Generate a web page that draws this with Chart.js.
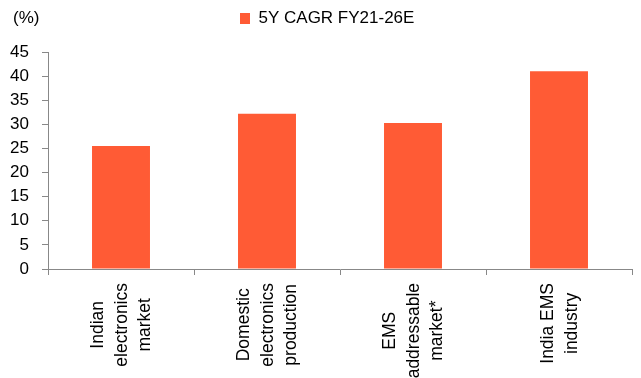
<!DOCTYPE html>
<html>
<head>
<meta charset="utf-8">
<script src="https://cdn.jsdelivr.net/npm/chart.js@4.4.0/dist/chart.umd.min.js"></script>
<style>
  html, body { margin: 0; padding: 0; background: #fff; }
  #wrap { width: 641px; height: 378px; }
</style>
</head>
<body>
<div id="wrap"><canvas id="myChart" width="641" height="378"></canvas></div>
<script>
// datos del grafico
var categorias = [
    ["Indian", "electronics", "market"],
    ["Domestic", "electronics", "production"],
    ["EMS", "addressable", "market*"],
    ["India EMS", "industry"]
];
var valores = [25.5, 32.2, 30.3, 41.0];
var nombreSerie = "5Y CAGR FY21-26E";
var unidad = "(%)";

const FUENTE = "'Liberation Sans', Arial, sans-serif";
const GRIS = "#888888";
const NARANJA = "#FF5B35";

// dibuja "(%)" y las etiquetas del eje x (centradas linea por linea como en excel)
const extras = {
    id: 'extras',
    afterLayout(chart) {
        var legend = chart.legend;
        legend.top = legend.top - 15;
        legend.bottom = legend.bottom - 15;
        legend.left = 230;
        legend.right = 641;
    },
    afterDraw(chart) {
        var ctx = chart.ctx;
        var xScale = chart.scales.x;
        ctx.save();
        ctx.fillStyle = "#000";
        ctx.font = "17px " + FUENTE;
        ctx.textAlign = "left";
        ctx.textBaseline = "middle";
        ctx.fillText(unidad, 13, 18);

        ctx.font = "17.5px " + FUENTE;
        ctx.textAlign = "center";
        for (var i = 0; i < categorias.length; i++) {
            var lineas = categorias[i];
            var x = xScale.getPixelForValue(i);
            var maxW = 0;
            lineas.forEach(function (l) { maxW = Math.max(maxW, ctx.measureText(l).width); });
            var y0 = xScale.top + 14;
            for (var k = 0; k < lineas.length; k++) {
                var off = (k - (lineas.length - 1) / 2) * 23.5;
                ctx.save();
                ctx.translate(x + off + 1, y0 + maxW / 2);
                ctx.rotate(-Math.PI / 2);
                ctx.fillText(lineas[k], 0, 0);
                ctx.restore();
            }
        }
        ctx.restore();
    }
};

var ctx = document.getElementById('myChart').getContext('2d');
var myChart = new Chart(ctx, {
    type: 'bar',
    data: {
        labels: categorias.map(function (c) { return c.join(' '); }),
        datasets: [{
            label: nombreSerie,
            data: valores,
            backgroundColor: NARANJA,
            borderWidth: 0,
            barPercentage: 0.397,
            categoryPercentage: 1.0
        }]
    },
    options: {
        responsive: false,
        animation: false,
        layout: {
            padding: { top: 15, right: 9, bottom: 0, left: 0 }
        },
        plugins: {
            legend: {
                position: 'top',
                align: 'start',
                labels: {
                    boxWidth: 10,
                    boxHeight: 11,
                    padding: 10,
                    color: '#000',
                    font: { family: FUENTE, size: 17 }
                }
            },
            title: { display: false },
            tooltip: { enabled: false }
        },
        scales: {
            x: {
                offset: true,
                grid: {
                    offset: true,
                    drawOnChartArea: false,
                    drawTicks: true,
                    tickLength: 6,
                    color: GRIS
                },
                border: { display: true, color: GRIS, width: 1 },
                ticks: { display: false },
                afterFit: function (s) { s.height = 109; }
            },
            y: {
                min: 0,
                max: 45,
                grid: {
                    drawOnChartArea: false,
                    drawTicks: true,
                    tickLength: 6,
                    color: GRIS
                },
                border: { display: true, color: GRIS, width: 1 },
                ticks: {
                    stepSize: 5,
                    padding: 13,
                    color: '#000',
                    font: { family: FUENTE, size: 17 }
                },
                afterFit: function (s) { s.width = 48; }
            }
        }
    },
    plugins: [extras]
});
</script>
</body>
</html>
